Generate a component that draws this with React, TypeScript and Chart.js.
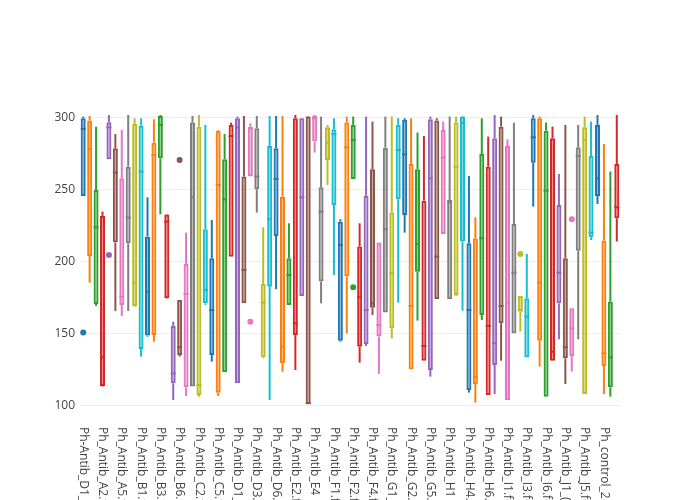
import { useEffect, useRef } from "react";
import { Chart, registerables } from "chart.js";

Chart.register(...registerables);

const categories = [
  "Ph-Antib_D1_1.fcs", "Ph-Antib_D1_2.fcs", "Ph_Antib_A1.fcs", "Ph_Antib_A2.fcs", "Ph_Antib_A3.fcs",
  "Ph_Antib_A4.fcs", "Ph_Antib_A5.fcs", "Ph_Antib_A6.fcs", "Ph_Antib_A7.fcs", "Ph_Antib_B1.fcs",
  "Ph_Antib_B2.fcs", "Ph_Antib_B2_1.fcs", "Ph_Antib_B3.fcs", "Ph_Antib_B4.fcs", "Ph_Antib_B5.fcs",
  "Ph_Antib_B6.fcs", "Ph_Antib_B7.fcs", "Ph_Antib_C1.fcs", "Ph_Antib_C2.fcs", "Ph_Antib_C3.fcs",
  "Ph_Antib_C4.fcs", "Ph_Antib_C5.fcs", "Ph_Antib_C6.fcs", "Ph_Antib_C7.fcs", "Ph_Antib_D1_1.fcs",
  "Ph_Antib_D1_2.fcs", "Ph_Antib_D2.fcs", "Ph_Antib_D3.fcs", "Ph_Antib_D4.fcs", "Ph_Antib_D5.fcs",
  "Ph_Antib_D6.fcs", "Ph_Antib_D7.fcs", "Ph_Antib_E1.fcs", "Ph_Antib_E2.fcs", "Ph_Antib_E3.fcs",
  "Ph_Antib_E3_2.fcs", "Ph_Antib_E4", "Ph_Antib_E5.fcs", "Ph_Antib_E6.fcs", "Ph_Antib_F1.fcs",
  "Ph_Antib_F1_2.fcs", "Ph_Antib_F1_3.fcs", "Ph_Antib_F2.fcs", "Ph_Antib_F3.fcs", "Ph_Antib_F3_2.fcs",
  "Ph_Antib_F4.fcs", "Ph_Antib_F5.fcs", "Ph_Antib_F6.fcs", "Ph_Antib_G1_1.fcs", "Ph_Antib_G1_2.fcs",
  "Ph_Antib_G1_3.fcs", "Ph_Antib_G2.fcs", "Ph_Antib_G3.fcs", "Ph_Antib_G4.fcs", "Ph_Antib_G5.fcs",
  "Ph_Antib_G6.fcs", "Ph_Antib_G7.fcs", "Ph_Antib_H1", "Ph_Antib_H2.fcs", "Ph_Antib_H3.fcs",
  "Ph_Antib_H4.fcs", "Ph_Antib_H5.fcs", "Ph_Antib_H5_2.fcs", "Ph_Antib_H6.fcs", "Ph_Antib_H7.fcs",
  "Ph_Antib_H8.fcs", "Ph_Antib_I1.fcs", "Ph_Antib_I2.fcs", "Ph_Antib_I2_2.fcs", "Ph_Antib_I3.fcs",
  "Ph_Antib_I4.fcs", "Ph_Antib_I5.fcs", "Ph_Antib_I6.fcs", "Ph_Antib_I7.fcs", "Ph_Antib_I8.fcs",
  "Ph_Antib_J1_(1).fcs", "Ph_Antib_J1_(2).fcs", "Ph_Antib_J3.fcs", "Ph_Antib_J5.fcs", "Ph_Antib_J6.fcs",
  "Ph_control_1.fcs", "Ph_control_2.fcs", "Ph_control_3.fcs", "Ph_control_4.fcs",
];

const whiskerLow = [
  245.4, 185.2, 169, 113, 270.8, 165.5, 162, 165.5, 168.5, 133.8,
  147.7, 144.2, 232.6, 174, 103.7, 133.8, 106.5, 113, 106, 169.7,
  130.3, 106.5, 122.9, 203.2, 115.3, 170.8, 258.8, 233.8, 132.6, 103.7,
  180.6, 123.4, 169.7, 124.5, 175.9, 100.9, 275.5, 170.8, 253, 190.5,
  144.2, 150, 257.2, 129.6, 141.2, 162.7, 121.8, 164.4, 146.5, 171.3,
  219.9, 125, 158.8, 131, 119.9, 173.8, 219, 173.6, 176, 165.7,
  108.8, 101.9, 159.3, 107.2, 107.9, 131, 103.7, 150, 151.2, 133.3,
  238, 126.9, 106, 131, 145.8, 114.8, 123.4, 145.8, 107.9, 214.8,
  239.8, 107.9, 106, 213.7,
];

const q1 = [
  245.4, 203.7, 170.4, 113.4, 270.8, 213.2, 169.7, 212.5, 169, 139.1,
  148.4, 148.8, 271.5, 174.3, 115.3, 135, 112.5, 113, 107.2, 170.8,
  135, 108.8, 122.9, 203.2, 115.3, 170.8, 258.8, 250, 133.3, 182.4,
  217.6, 129.2, 169.7, 148.8, 175.9, 100.9, 283.1, 185.9, 270.4, 239.1,
  144.9, 189.4, 257.2, 140.7, 142.6, 167.8, 147.7, 164.4, 153.5, 243.1,
  232.2, 125, 192.8, 131, 124.5, 173.8, 219, 173.6, 176.6, 213.7,
  110.6, 114.8, 162.7, 107.2, 128, 157, 103.7, 150, 165, 133.3,
  268.5, 144.9, 106, 131, 170.8, 132.6, 134.3, 207.4, 107.9, 216.7,
  245.4, 127.3, 112.5, 229.9,
];

const median = [
  291.9, 278, 223.6, 133.3, 293, 261.6, 175.5, 230.3, 185.2, 262.3,
  178.9, 273.8, 294.7, 227.5, 122.2, 140.3, 177.3, 244.4, 114.1, 180.1,
  166.2, 253, 243, 287, 293, 194, 292.4, 258.8, 171.3, 229.2,
  257.2, 140.7, 190.5, 156.9, 244.4, 101.5, 299.3, 234.5, 282.4, 288.4,
  211.3, 279.2, 284.3, 175, 166.2, 170.8, 155.8, 222.2, 192.1, 277.3,
  274.3, 169, 212, 141.2, 257.6, 203.2, 272, 241, 265.3, 296,
  166.2, 119.9, 216, 155.1, 143, 169, 171.3, 192.1, 166.2, 161.6,
  286.1, 185.2, 249.1, 137.3, 192.1, 140.3, 153.5, 273.1, 284.3, 219.9,
  257.6, 136.1, 133.3, 237.5,
];

const q3 = [
  299.3, 297.7, 249.5, 231.5, 296.5, 278.5, 257.6, 265.7, 295.4, 294.2,
  217.1, 282.4, 300.9, 232.5, 155.1, 173.1, 198.1, 296.3, 293.5, 222.2,
  202.1, 290.7, 270.8, 294.7, 299.3, 258.8, 293.5, 292.4, 184.3, 280.1,
  278.5, 244.9, 202.1, 299.3, 299.3, 300.5, 300.9, 251.4, 293, 291.7,
  227.5, 296.3, 294.7, 210.2, 245.4, 263.9, 213, 278.9, 233.8, 294.7,
  298.1, 267.6, 263.9, 242.1, 298.6, 297.7, 291.2, 242.6, 296.3, 300.5,
  212.5, 216, 274.5, 265.7, 285.4, 293.5, 280.1, 225.9, 175.9, 174.3,
  299.3, 299.3, 290.7, 285.4, 239.1, 202.1, 167.4, 279.2, 293, 273.1,
  294.7, 214.4, 172, 267.6,
];

const whiskerHigh = [
  300.5, 300.9, 293.5, 234.5, 301.6, 288.4, 291.2, 301.6, 299.3, 299.3,
  244.4, 298.6, 301.6, 232.8, 158.1, 173.1, 219.9, 300.9, 301.6, 294.7,
  228.7, 291.2, 288.4, 296.3, 300.5, 300.9, 295.8, 300.9, 223.6, 300.9,
  300.9, 300.9, 226.4, 301.6, 299.5, 300.9, 301.6, 300.5, 294.7, 299.3,
  229.2, 300.5, 300.5, 226.4, 300.5, 297, 213, 300.5, 300.5, 299.3,
  299.3, 299.3, 289.4, 287, 300.5, 299.3, 297, 300.5, 300.5, 301,
  259.3, 230.6, 299.3, 286.6, 301.6, 300.5, 284.7, 296.3, 175.9, 205.1,
  301.6, 300.5, 296.3, 293.5, 260.6, 294.7, 167.4, 294.7, 300.5, 297,
  301.6, 281.5, 262.3, 301.6,
];

const outlierCategories = [
  "Ph-Antib_D1_1.fcs", "Ph_Antib_A3.fcs", "Ph_Antib_B6.fcs", "Ph_Antib_D2.fcs",
  "Ph_Antib_F2.fcs", "Ph_Antib_I2_2.fcs", "Ph_Antib_J1_(2).fcs",
];
const outlierValues = [150.5, 204.4, 270.4, 158.1, 182, 205.1, 229.2];

const yTicks = [100, 150, 200, 250, 300];

const palette = [
  "#1f77b4", "#ff7f0e", "#2ca02c", "#d62728", "#9467bd",
  "#8c564b", "#e377c2", "#7f7f7f", "#bcbd22", "#17becf",
];

function rgba(hex: string, a: number) {
  const n = parseInt(hex.slice(1), 16);
  return `rgba(${(n >> 16) & 255},${(n >> 8) & 255},${n & 255},${a})`;
}

export default function App() {
  const ref = useRef<HTMLCanvasElement>(null);

  useEffect(() => {
    if (!ref.current) return;
    const colors = categories.map((_, i) => palette[i % palette.length]);
    const fills = colors.map((c) => rgba(c, 0.5));
    const outlierColors = outlierCategories.map(
      (c) => palette[categories.indexOf(c) % palette.length]
    );

    const labelPlugin = {
      id: "rotatedCategoryLabels",
      afterDraw(chart: any) {
        const ctx = chart.ctx;
        const xs = chart.scales.x;
        const top = chart.chartArea.bottom + 7;
        ctx.save();
        ctx.font = '12px "Open Sans"';
        ctx.fillStyle = "#444";
        ctx.textAlign = "left";
        ctx.textBaseline = "middle";
        categories.forEach((c, i) => {
          if (i % 3 !== 0) return;
          const x = xs.getPixelForValue(i);
          ctx.save();
          ctx.translate(x, top);
          ctx.rotate(Math.PI / 2);
          ctx.fillText(c, 0, 0);
          ctx.restore();
        });
        ctx.restore();
      },
    };

    const chart = new Chart(ref.current, {
      type: "bar",
      data: {
        labels: categories,
        datasets: [
          {
            type: "bar",
            data: categories.map((_, i) => [whiskerLow[i], q1[i]]) as any,
            backgroundColor: colors,
            borderWidth: 0,
            barThickness: 2,
            grouped: false,
            inflateAmount: 0,
            order: 4,
          } as any,
          {
            type: "bar",
            data: categories.map((_, i) => [q3[i], whiskerHigh[i]]) as any,
            backgroundColor: colors,
            borderWidth: 0,
            barThickness: 2,
            grouped: false,
            inflateAmount: 0,
            order: 4,
          } as any,
          {
            type: "bar",
            data: categories.map((_, i) => [q1[i], q3[i]]) as any,
            backgroundColor: fills,
            borderColor: colors,
            borderWidth: 2,
            borderSkipped: false,
            barThickness: 5,
            grouped: false,
            inflateAmount: 0,
            order: 3,
          } as any,
          {
            type: "line",
            data: median,
            showLine: false,
            pointStyle: "line",
            pointRadius: 2.5,
            pointBorderWidth: 2,
            pointBorderColor: colors,
            pointBackgroundColor: colors,
            order: 2,
          } as any,
          {
            type: "line",
            data: outlierCategories.map((c, i) => ({ x: c, y: outlierValues[i] })),
            showLine: false,
            pointStyle: "circle",
            pointRadius: 3,
            pointBorderWidth: 0,
            pointBackgroundColor: outlierColors,
            pointBorderColor: outlierColors,
            order: 1,
          } as any,
        ],
      },
      options: {
        animation: false,
        responsive: false,
        maintainAspectRatio: false,
        layout: { padding: { top: 100, right: 80, left: 0, bottom: 0 } },
        plugins: { legend: { display: false }, tooltip: { enabled: false } },
        scales: {
          x: {
            type: "category",
            offset: true,
            grid: { display: false },
            border: { display: false },
            ticks: { display: false },
            afterFit: (s: any) => {
              s.height = 80;
            },
          },
          y: {
            min: 89.8,
            max: 312,
            afterBuildTicks: (s: any) => {
              s.ticks = yTicks.map((v) => ({ value: v }));
            },
            grid: { color: "#eee", lineWidth: 1, drawTicks: false },
            border: { display: false },
            ticks: {
              padding: 5,
              color: "#444",
              font: { family: '"Open Sans"', size: 12 },
            },
            afterFit: (s: any) => {
              s.width = 80;
            },
          },
        },
      },
      plugins: [labelPlugin],
    });

    return () => chart.destroy();
  }, []);

  return (
    <div
      style={{
        position: "fixed",
        left: 0,
        top: 0,
        width: 700,
        height: 500,
        overflow: "hidden",
        background: "#fff",
      }}
    >
      <canvas ref={ref} width={700} height={500} style={{ width: 700, height: 500 }} />
    </div>
  );
}
